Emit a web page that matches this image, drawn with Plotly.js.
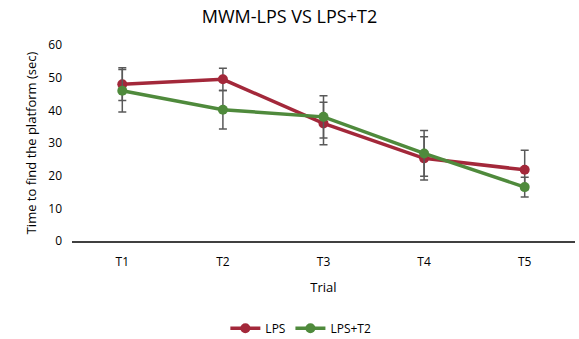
<!DOCTYPE html>
<html><head><meta charset="utf-8">
<script src="https://cdn.plot.ly/plotly-3.0.1.min.js"></script>
<style>body{margin:0;padding:0;background:#fff}#chart{width:579px;height:339px}</style>
</head><body><div id="chart"></div>
<script>
const trials = ["T1","T2","T3","T4","T5"];
const lps = [48.0, 49.5, 36.0, 25.3, 21.8];
const lpsErr = [5.0, 3.4, 6.5, 6.6, 6.0];
const lpsT2 = [46.0, 40.2, 38.0, 26.8, 16.5];
const lpsT2Err = [6.5, 5.9, 6.5, 7.0, 3.0];

const errStyle = {type:'data', visible:true, color:'#595959', thickness:1.5, width:4};
const traces = [
  {x:trials, y:lps, name:'LPS', type:'scatter', mode:'lines+markers',
   line:{color:'#A3283A', width:3.5}, marker:{color:'#A3283A', size:10},
   error_y:Object.assign({array:lpsErr}, errStyle)},
  {x:trials, y:lpsT2, name:'LPS+T2', type:'scatter', mode:'lines+markers',
   line:{color:'#4F8A3C', width:3.5}, marker:{color:'#4F8A3C', size:10},
   error_y:Object.assign({array:lpsT2Err}, errStyle)}
];
const layout = {
  width:579, height:339,
  margin:{l:72, r:4, t:45, b:98, autoexpand:false},
  paper_bgcolor:'#fff', plot_bgcolor:'#fff',
  font:{family:'"Open Sans", "Liberation Sans", sans-serif', color:'#404040', size:12},
  title:{text:'MWM-LPS VS LPS+T2', x:0.5, xanchor:'center', y:0.95, yanchor:'middle',
         font:{size:18, color:'#000'}},
  xaxis:{title:{text:'Trial', font:{size:13, color:'#000'}, standoff:14},
         range:[-0.5, 4.5], automargin:false,
         showline:true, linecolor:'#404040', linewidth:1.5, showgrid:false, ticks:'',
         ticklabelstandoff:9,
         tickfont:{size:12, color:'#000'}, fixedrange:true},
  yaxis:{title:{text:'Time to find the platform (sec)', font:{size:13, color:'#000'}, standoff:8},
         range:[0,60], dtick:10, showgrid:false, showline:false, zeroline:false, ticks:'',
         ticklabelstandoff:9, automargin:false,
         tickfont:{size:12, color:'#000'}},
  showlegend:true,
  legend:{orientation:'h', x:0.455, xanchor:'center', y:-0.445, yanchor:'middle',
          font:{size:12, color:'#000'}}
};
Plotly.newPlot('chart', traces, layout, {displayModeBar:false, staticPlot:true});
</script></body></html>
